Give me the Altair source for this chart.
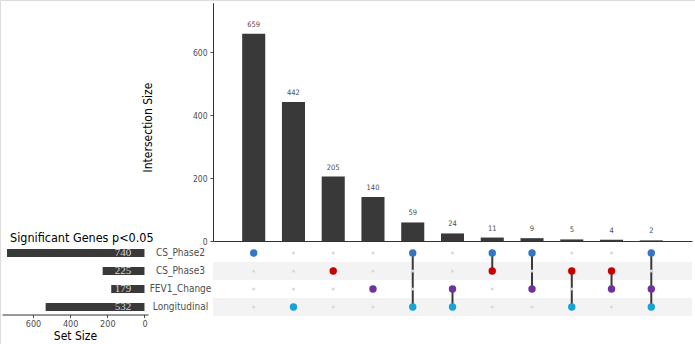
import altair as alt
import pandas as pd

# ---------------- data ----------------
sets = ["CS_Phase2", "CS_Phase3", "FEV1_Change", "Longitudinal"]
set_sizes = [740, 225, 179, 532]
set_colors = ["#3575C9", "#C80000", "#7030A0", "#17A2D8"]
stripe_sets = ["CS_Phase3", "Longitudinal"]

inter_ids = ["I01", "I02", "I03", "I04", "I05", "I06", "I07", "I08", "I09", "I10", "I11"]
inter_sizes = [659, 442, 205, 140, 59, 24, 11, 9, 5, 4, 2]
inter_members = [
    ["CS_Phase2"],
    ["Longitudinal"],
    ["CS_Phase3"],
    ["FEV1_Change"],
    ["CS_Phase2", "Longitudinal"],
    ["FEV1_Change", "Longitudinal"],
    ["CS_Phase2", "CS_Phase3"],
    ["CS_Phase2", "FEV1_Change"],
    ["CS_Phase3", "Longitudinal"],
    ["CS_Phase3", "FEV1_Change"],
    ["CS_Phase2", "FEV1_Change", "Longitudinal"],
]
top_ticks = [0, 200, 400, 600]
left_ticks = [0, 200, 400, 600]
top_domain = [0, 758]
left_domain = [-19, 767]
left_label_pos = [116]
title_text = ["Significant Genes p<0.05"]

# ---------------- tables ----------------
bars_df = pd.DataFrame({"id": inter_ids, "size": inter_sizes})
rows = []
for iid, mem in zip(inter_ids, inter_members):
    for s in sets:
        rows.append({"id": iid, "set": s, "active": s in mem})
matrix_df = pd.DataFrame(rows)
line_rows = []
for iid, mem in zip(inter_ids, inter_members):
    idx = sorted(sets.index(m) for m in mem)
    line_rows.append({"id": iid, "s0": sets[idx[0]], "s1": sets[idx[-1]]})
lines_df = pd.DataFrame(line_rows)
sets_df = pd.DataFrame({"set": sets, "size": set_sizes,
                        "lab": [str(v) for v in set_sizes],
                        "pos": left_label_pos * len(sets)})
stripe_df = pd.DataFrame({"set": stripe_sets})
title_df = pd.DataFrame({"t": title_text})

FONT = "Liberation Sans Narrow, DejaVu Sans Condensed, Liberation Sans, Arial"
GREY = "#4d4d4d"

# ---------------- scales ----------------
XB = alt.Scale(type="band", domain=inter_ids, range=[213, 692],
               paddingInner=0.42, paddingOuter=0.734)
YT = alt.Scale(domain=top_domain, range=[241, 2.7], nice=False, zero=False)
YS = alt.Scale(type="band", domain=sets, range=[244, 316], paddingInner=0, paddingOuter=0)
YL = alt.Scale(type="band", domain=sets, range=[244, 316],
               paddingInner=0.55, paddingOuter=0.275)
XL = alt.Scale(domain=left_domain, range=[148, 2], nice=False, zero=False)
CS = alt.Scale(domain=sets, range=set_colors)

# ---------------- top bars ----------------
top_bars = alt.Chart(bars_df).mark_bar(color="#393939").encode(
    x=alt.X("id:N", scale=XB, sort=inter_ids,
            axis=alt.Axis(orient="bottom", offset=-103, labels=False, ticks=False,
                          title=None, grid=False, domainColor="#333333")),
    y=alt.Y("size:Q", scale=YT,
            axis=alt.Axis(orient="left", offset=-213, values=top_ticks, grid=False,
                          title="Intersection Size", titleX=-66, titleY=127,
                          titleAngle=-90, titleBaseline="middle", titleAlign="center",
                          titleFont=FONT, titleFontSize=12, titleFontWeight="normal",
                          titleColor="#000000",
                          labelFont=FONT, labelFontSize=8.5, labelColor=GREY,
                          labelPadding=3, tickSize=3, tickColor=GREY,
                          domainColor="#333333")),
)
top_text = alt.Chart(bars_df).mark_text(baseline="bottom", dy=-5, fontSize=7.5,
                                        color=GREY, font=FONT).encode(
    x=alt.X("id:N", scale=XB, sort=inter_ids, axis=None),
    y=alt.Y("size:Q", scale=YT, axis=None),
    text="size:Q",
)

# ---------------- matrix ----------------
stripes = alt.Chart(stripe_df).mark_rect(color="#f3f3f3").encode(
    x=alt.value(213), x2=alt.value(692),
    y=alt.Y("set:N", scale=YS, sort=sets, axis=None),
)
names = alt.Chart(sets_df).mark_point(opacity=0).encode(
    y=alt.Y("set:N", scale=YS, sort=sets,
            axis=alt.Axis(orient="left", offset=-213, domain=False, ticks=False,
                          grid=False, title=None, labelAlign="center",
                          labelBaseline="middle", labelPadding=33,
                          labelFont=FONT, labelFontSize=10, labelColor=GREY)),
    x=alt.value(300),
)
inactive = alt.Chart(matrix_df).transform_filter("!datum.active").mark_circle(
    size=10, color="#dadada", opacity=1).encode(
    x=alt.X("id:N", scale=XB, sort=inter_ids, axis=None),
    y=alt.Y("set:N", scale=YS, sort=sets, axis=None),
)
links = alt.Chart(lines_df).mark_rule(color="#3a3a3a", strokeWidth=2).encode(
    x=alt.X("id:N", scale=XB, sort=inter_ids, axis=None),
    y=alt.Y("s0:N", scale=YS, sort=sets, axis=None),
    y2="s1:N",
)
active = alt.Chart(matrix_df).transform_filter("datum.active").mark_circle(
    size=55, opacity=1).encode(
    x=alt.X("id:N", scale=XB, sort=inter_ids, axis=None),
    y=alt.Y("set:N", scale=YS, sort=sets, axis=None),
    color=alt.Color("set:N", scale=CS, legend=None),
)

# ---------------- left set size ----------------
left_bars = alt.Chart(sets_df).mark_bar(color="#393939").encode(
    x=alt.X("size:Q", scale=XL,
            axis=alt.Axis(orient="bottom", offset=-29.5, values=left_ticks, grid=False,
                          title="Set Size", titleFont=FONT, titleFontSize=12,
                          titleFontWeight="normal", titleColor="#000000", titlePadding=2,
                          labelFont=FONT, labelFontSize=9, labelColor=GREY,
                          labelPadding=2, tickSize=3, tickColor=GREY,
                          domainColor="#333333")),
    x2=alt.datum(0),
    y=alt.Y("set:N", scale=YL, sort=sets, axis=None),
)
left_text = alt.Chart(sets_df).mark_text(font="Liberation Serif", fontSize=11,
                                         color="#d8d8d8", baseline="middle").encode(
    x=alt.X("pos:Q", scale=XL, axis=None),
    y=alt.Y("set:N", scale=YL, sort=sets, axis=None),
    text="lab:N",
)
title = alt.Chart(title_df).mark_text(align="left", baseline="alphabetic", fontSize=12.5,
                                      color="#000000", font=FONT).encode(
    x=alt.value(10), y=alt.value(242), text="t:N")

chart = alt.layer(
    stripes, names, top_bars, top_text, links, inactive, active,
    left_bars, left_text, title,
).resolve_scale(
    x="independent", y="independent", color="independent"
).resolve_axis(
    x="independent", y="independent"
).properties(
    width=695, height=344, autosize="none", padding=0
).configure_view(stroke=None).configure(background="white")

chart.save("out.html", embed_options={"renderer": "svg", "actions": False})
